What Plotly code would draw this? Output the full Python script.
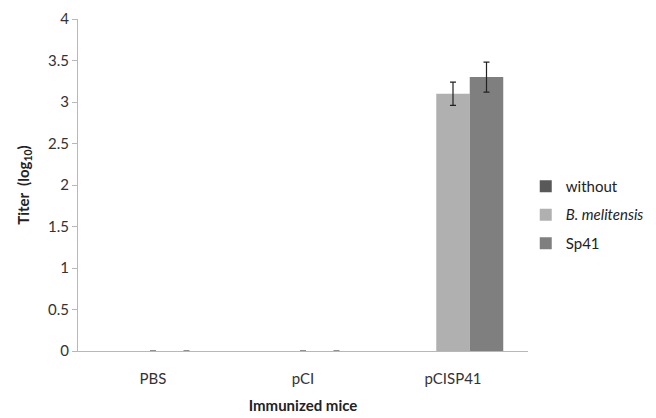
import plotly.graph_objects as go

categories = ["PBS", "pCI", "pCISP41"]
series_names = ["without", "<i>B. melitensis</i>", "Sp41"]
without_vals = [0, 0, 0]
bmel_vals = [0, 0, 3.1]
sp41_vals = [0, 0, 3.3]
bmel_err = [0, 0, 0.14]
sp41_err = [0, 0, 0.18]
colors = ["#595959", "#b0b0b0", "#7f7f7f"]

fig = go.Figure()
fig.add_trace(go.Bar(x=categories, y=without_vals, name=series_names[0],
                     legendgroup="a",
                     marker=dict(color=colors[0], line=dict(width=0))))
fig.add_trace(go.Bar(x=categories, y=bmel_vals, name=series_names[1],
                     legendgroup="b",
                     marker=dict(color=colors[1], line=dict(width=0)),
                     error_y=dict(type="data", array=bmel_err, color="#222222",
                                  thickness=1.2, width=3)))
fig.add_trace(go.Bar(x=categories, y=sp41_vals, name=series_names[2],
                     legendgroup="c",
                     marker=dict(color=colors[2], line=dict(width=0)),
                     error_y=dict(type="data", array=sp41_err, color="#222222",
                                  thickness=1.2, width=3)))

font_family = "Lato, Open Sans, sans-serif"
# page body has an 8px default margin, so the figure is sized/offset to compensate
fig.update_layout(
    width=648, height=410,
    margin=dict(l=70, r=128, t=11, b=67, autoexpand=False),
    paper_bgcolor="white", plot_bgcolor="white",
    barmode="group", bargap=0.33, bargroupgap=0,
    font=dict(family=font_family, size=15, color="#333333"),
    showlegend=True,
    legend=dict(x=0.995, y=0.41, xanchor="left", yanchor="middle",
                font=dict(size=15, color="#222222"), itemwidth=30,
                tracegroupgap=6),
    xaxis=dict(showline=True, linecolor="#b8b8b8", linewidth=1, ticks="",
               ticklabelstandoff=14, automargin=False, ticklabeloverflow="allow",
               title=dict(text="<b>Immunized mice</b>", standoff=14,
                          font=dict(size=15, color="#222222"))),
    yaxis=dict(range=[0, 4], dtick=0.5, showgrid=False, zeroline=False,
               showline=True, linecolor="#b8b8b8", linewidth=1,
               ticks="outside", ticklen=5, tickcolor="#b8b8b8", automargin=False,
               ticklabeloverflow="allow",
               title=dict(text="<b>Titer  (log<sub>10</sub>)</b>", standoff=14,
                          font=dict(size=15, color="#222222"))),
)

fig.write_html("out.html")
